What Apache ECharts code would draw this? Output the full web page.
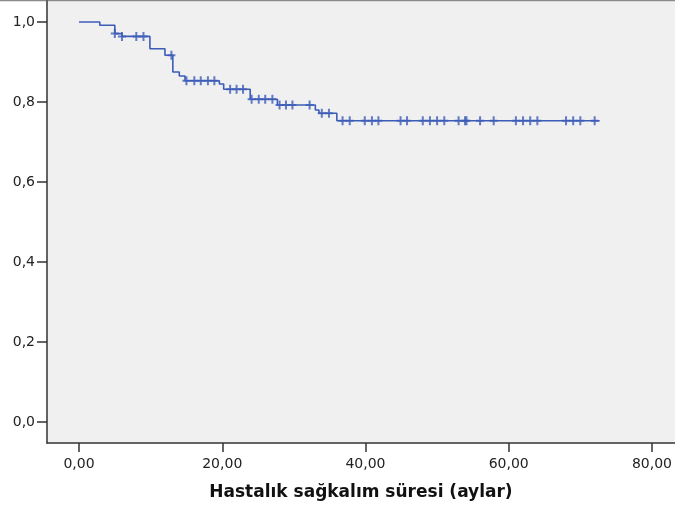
<!DOCTYPE html>
<html>
<head>
<meta charset="utf-8">
<script src="https://cdn.jsdelivr.net/npm/echarts@6/dist/echarts.min.js"></script>
<style>
  html, body { margin: 0; padding: 0; background: #fff; }
  #chart { width: 675px; height: 508px; }
</style>
</head>
<body>
<div id="chart"></div>
<script>
// Kaplan-Meier basamakları: [ay, sağkalım oranı] (olay sonrası değer)
var stepTimes = [0, 2.9, 5.0, 6.0, 9.9, 12.0, 13.1, 14.0, 14.8, 19.6, 20.2, 23.9, 27.7, 33.0, 33.5, 36.0, 72.7];
var stepSurv  = [1.0, 0.992, 0.971, 0.964, 0.933, 0.917, 0.875, 0.865, 0.853, 0.845, 0.832, 0.807, 0.7925, 0.780, 0.772, 0.753, 0.753];

// sansürlü gözlemler (ay)
var censorTimes = [5.0, 6.0, 8.0, 9.0, 12.9, 15.0, 16.1, 17.0, 18.0, 18.9, 21.1, 22.0, 22.9,
  24.1, 25.1, 26.0, 27.0, 28.0, 28.9, 29.8, 32.2, 33.9, 34.9,
  36.8, 37.8, 39.9, 40.9, 41.8, 44.9, 45.8, 48.0, 49.0, 50.0, 51.0, 53.0, 53.9, 54.1,
  56.0, 57.9, 61.0, 62.0, 63.0, 64.0, 68.0, 69.0, 70.0, 72.0];

var xTicks = [0, 20, 40, 60, 80];
var yTicks = [0, 0.2, 0.4, 0.6, 0.8, 1.0];

// bir zamanda geçerli olan sağkalım değeri
function survAt(t) {
    var s = stepSurv[0];
    for (var i = 0; i < stepTimes.length; i++) {
        if (stepTimes[i] <= t) s = stepSurv[i];
    }
    return s;
}

var lineData = stepTimes.map(function (t, i) { return [t, stepSurv[i]]; });
var censorData = censorTimes.map(function (t) { return [t, survAt(t)]; });

var blue = '#3d5cb8';
var axisColor = '#333333';

var myChart = echarts.init(document.getElementById('chart'));

var option = {
    animation: false,
    textStyle: { fontFamily: 'DejaVu Sans, sans-serif' },
    grid: {
        left: 47, right: 0, top: 1, bottom: 65,
        show: true,
        backgroundColor: '#f0f0f0',
        borderWidth: 0
    },
    graphic: [{
        type: 'line',
        shape: { x1: 0, y1: 0.5, x2: 675, y2: 0.5 },
        style: { stroke: '#8a8a8a', lineWidth: 1.5 }
    }],
    xAxis: {
        type: 'value',
        min: -4.47, max: 83.2,
        name: 'Hastalık sağkalım süresi (aylar)',
        nameLocation: 'middle',
        nameGap: 41,
        nameTextStyle: { fontSize: 17, fontWeight: 'bold', color: '#111' },
        axisLine: { onZero: false, lineStyle: { color: axisColor, width: 1.5 } },
        axisTick: { customValues: xTicks, length: 9, lineStyle: { color: axisColor, width: 1.5 } },
        axisLabel: {
            customValues: xTicks,
            fontSize: 14, color: '#222', margin: 14,
            formatter: function (v) { return v.toFixed(2).replace('.', ','); }
        },
        splitLine: { show: false }
    },
    yAxis: {
        type: 'value',
        min: -0.0525, max: 1.0525,
        axisLine: { show: true, onZero: false, lineStyle: { color: axisColor, width: 1.5 } },
        axisTick: { show: true, customValues: yTicks, length: 10, lineStyle: { color: axisColor, width: 1.5 } },
        axisLabel: {
            customValues: yTicks,
            fontSize: 14, color: '#222', margin: 12,
            formatter: function (v) { return v.toFixed(1).replace('.', ','); }
        },
        splitLine: { show: false }
    },
    series: [
        {
            name: 'Sağkalım',
            type: 'line',
            step: 'end',
            data: lineData,
            showSymbol: false,
            lineStyle: { color: blue, width: 1.6 }
        },
        {
            name: 'Sansür',
            type: 'scatter',
            data: censorData,
            symbol: 'path://M3,0h2v9h-2z M0,3.5h8v2h-8z',
            symbolSize: [8, 9],
            itemStyle: { color: blue }
        }
    ]
};

myChart.setOption(option);
</script>
</body>
</html>
